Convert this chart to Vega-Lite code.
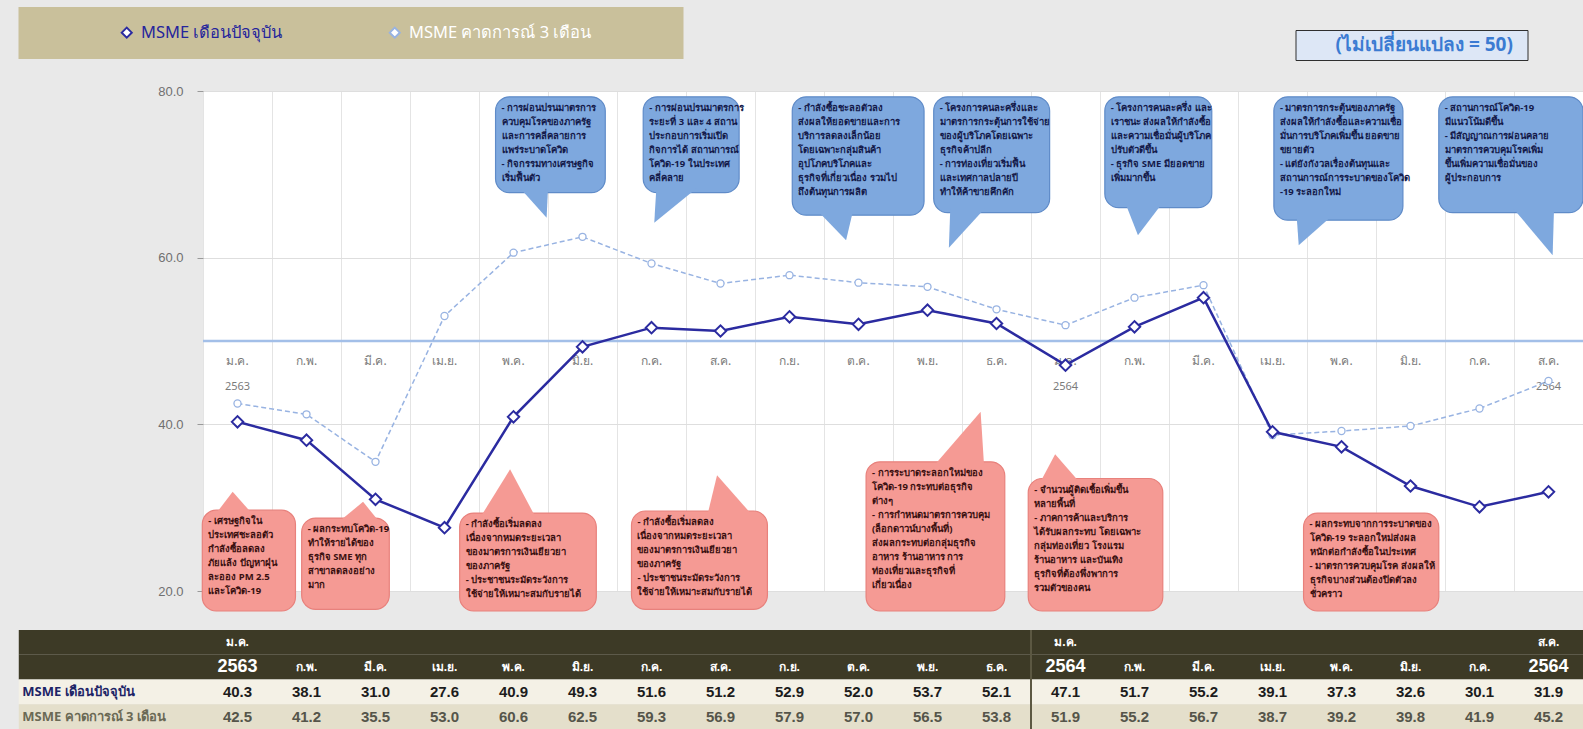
{
  "$schema": "https://vega.github.io/schema/vega-lite/v6.json",
  "background": "#e9e9e9",
  "padding": {"left": 18, "top": 7, "right": 0, "bottom": 0},
  "autosize": {"type": "pad"},
  "config": {
    "font": "Noto Sans",
    "view": {"stroke": null},
    "axis": {"labelFont": "Liberation Sans"}
  },
  "datasets": {
    "series": [
      {"i":0,"series":"MSME เดือนปัจจุบัน","value":40.3},
      {"i":1,"series":"MSME เดือนปัจจุบัน","value":38.1},
      {"i":2,"series":"MSME เดือนปัจจุบัน","value":31.0},
      {"i":3,"series":"MSME เดือนปัจจุบัน","value":27.6},
      {"i":4,"series":"MSME เดือนปัจจุบัน","value":40.9},
      {"i":5,"series":"MSME เดือนปัจจุบัน","value":49.3},
      {"i":6,"series":"MSME เดือนปัจจุบัน","value":51.6},
      {"i":7,"series":"MSME เดือนปัจจุบัน","value":51.2},
      {"i":8,"series":"MSME เดือนปัจจุบัน","value":52.9},
      {"i":9,"series":"MSME เดือนปัจจุบัน","value":52.0},
      {"i":10,"series":"MSME เดือนปัจจุบัน","value":53.7},
      {"i":11,"series":"MSME เดือนปัจจุบัน","value":52.1},
      {"i":12,"series":"MSME เดือนปัจจุบัน","value":47.1},
      {"i":13,"series":"MSME เดือนปัจจุบัน","value":51.7},
      {"i":14,"series":"MSME เดือนปัจจุบัน","value":55.2},
      {"i":15,"series":"MSME เดือนปัจจุบัน","value":39.1},
      {"i":16,"series":"MSME เดือนปัจจุบัน","value":37.3},
      {"i":17,"series":"MSME เดือนปัจจุบัน","value":32.6},
      {"i":18,"series":"MSME เดือนปัจจุบัน","value":30.1},
      {"i":19,"series":"MSME เดือนปัจจุบัน","value":31.9},
      {"i":0,"series":"MSME คาดการณ์ 3 เดือน","value":42.5},
      {"i":1,"series":"MSME คาดการณ์ 3 เดือน","value":41.2},
      {"i":2,"series":"MSME คาดการณ์ 3 เดือน","value":35.5},
      {"i":3,"series":"MSME คาดการณ์ 3 เดือน","value":53.0},
      {"i":4,"series":"MSME คาดการณ์ 3 เดือน","value":60.6},
      {"i":5,"series":"MSME คาดการณ์ 3 เดือน","value":62.5},
      {"i":6,"series":"MSME คาดการณ์ 3 เดือน","value":59.3},
      {"i":7,"series":"MSME คาดการณ์ 3 เดือน","value":56.9},
      {"i":8,"series":"MSME คาดการณ์ 3 เดือน","value":57.9},
      {"i":9,"series":"MSME คาดการณ์ 3 เดือน","value":57.0},
      {"i":10,"series":"MSME คาดการณ์ 3 เดือน","value":56.5},
      {"i":11,"series":"MSME คาดการณ์ 3 เดือน","value":53.8},
      {"i":12,"series":"MSME คาดการณ์ 3 เดือน","value":51.9},
      {"i":13,"series":"MSME คาดการณ์ 3 เดือน","value":55.2},
      {"i":14,"series":"MSME คาดการณ์ 3 เดือน","value":56.7},
      {"i":15,"series":"MSME คาดการณ์ 3 เดือน","value":38.7},
      {"i":16,"series":"MSME คาดการณ์ 3 เดือน","value":39.2},
      {"i":17,"series":"MSME คาดการณ์ 3 เดือน","value":39.8},
      {"i":18,"series":"MSME คาดการณ์ 3 เดือน","value":41.9},
      {"i":19,"series":"MSME คาดการณ์ 3 เดือน","value":45.2}
    ],
    "months": [
      {"i":0,"m":"ม.ค.","yr":"2563"},
      {"i":1,"m":"ก.พ.","yr":""},
      {"i":2,"m":"มี.ค.","yr":""},
      {"i":3,"m":"เม.ย.","yr":""},
      {"i":4,"m":"พ.ค.","yr":""},
      {"i":5,"m":"มิ.ย.","yr":""},
      {"i":6,"m":"ก.ค.","yr":""},
      {"i":7,"m":"ส.ค.","yr":""},
      {"i":8,"m":"ก.ย.","yr":""},
      {"i":9,"m":"ต.ค.","yr":""},
      {"i":10,"m":"พ.ย.","yr":""},
      {"i":11,"m":"ธ.ค.","yr":""},
      {"i":12,"m":"ม.ค.","yr":"2564"},
      {"i":13,"m":"ก.พ.","yr":""},
      {"i":14,"m":"มี.ค.","yr":""},
      {"i":15,"m":"เม.ย.","yr":""},
      {"i":16,"m":"พ.ค.","yr":""},
      {"i":17,"m":"มิ.ย.","yr":""},
      {"i":18,"m":"ก.ค.","yr":""},
      {"i":19,"m":"ส.ค.","yr":"2564"}
    ],
    "ref": [{"k":"(ไม่เปลี่ยนแปลง = 50)","v":50}],
    "trows": [{"row":"top"},{"row":"month"},{"row":"MSME เดือนปัจจุบัน"},{"row":"MSME คาดการณ์ 3 เดือน"}],
    "notes": [
      {"id":"B1","kind":"blue","x0":3.74,"x1":5.33,"ytop":79.3,"ybot":67.8,"t":"- การผ่อนปรนมาตรการ\nควบคุมโรคของภาครัฐ\nและการคลี่คลายการ\nแพร่ระบาดโควิด\n- กิจกรรมทางเศรษฐกิจ\nเริ่มฟื้นตัว"},
      {"id":"B2","kind":"blue","x0":5.88,"x1":7.27,"ytop":79.3,"ybot":67.8,"t":"- การผ่อนปรนมาตรการ\nระยะที่ 3 และ 4 สถาน\nประกอบการเริ่มเปิด\nกิจการได้ สถานการณ์\nโควิด-19 ในประเทศ\nคลี่คลาย"},
      {"id":"B3","kind":"blue","x0":8.04,"x1":9.95,"ytop":79.3,"ybot":65.1,"t":"- กำลังซื้อชะลอตัวลง\nส่งผลให้ยอดขายและการ\nบริการลดลงเล็กน้อย\nโดยเฉพาะกลุ่มสินค้า\nอุปโภคบริโภคและ\nธุรกิจที่เกี่ยวเนื่อง รวมไป\nถึงต้นทุนการผลิต"},
      {"id":"B4","kind":"blue","x0":10.09,"x1":11.77,"ytop":79.3,"ybot":65.4,"t":"- โครงการคนละครึ่งและ\nมาตรการกระตุ้นการใช้จ่าย\nของผู้บริโภคโดยเฉพาะ\nธุรกิจค้าปลีก\n- การท่องเที่ยวเริ่มฟื้น\nและเทศกาลปลายปี\nทำให้ค้าขายคึกคัก"},
      {"id":"B5","kind":"blue","x0":12.57,"x1":14.12,"ytop":79.3,"ybot":66.0,"t":"- โครงการคนละครึ่ง และ\nเราชนะ ส่งผลให้กำลังซื้อ\nและความเชื่อมั่นผู้บริโภค\nปรับตัวดีขึ้น\n- ธุรกิจ SME มียอดขาย\nเพิ่มมากขึ้น"},
      {"id":"B6","kind":"blue","x0":15.02,"x1":16.89,"ytop":79.3,"ybot":64.5,"t":"- มาตรการกระตุ้นของภาครัฐ\nส่งผลให้กำลังซื้อและความเชื่อ\nมั่นการบริโภคเพิ่มขึ้น ยอดขาย\nขยายตัว\n- แต่ยังกังวลเรื่องต้นทุนและ\nสถานการณ์การระบาดของโควิด\n-19 ระลอกใหม่"},
      {"id":"B7","kind":"blue","x0":17.41,"x1":19.5,"ytop":79.3,"ybot":65.4,"t":"- สถานการณ์โควิด-19\nมีแนวโน้มดีขึ้น\n- มีสัญญาณการผ่อนคลาย\nมาตรการควบคุมโรคเพิ่ม\nขึ้นเพิ่มความเชื่อมั่นของ\nผู้ประกอบการ"},
      {"id":"P1","kind":"pink","x0":-0.51,"x1":0.84,"ytop":29.7,"ybot":17.6,"t":"- เศรษฐกิจใน\nประเทศชะลอตัว\nกำลังซื้อลดลง\nภัยแล้ง ปัญหาฝุ่น\nละออง PM 2.5\nและโควิด-19"},
      {"id":"P2","kind":"pink","x0":0.93,"x1":2.2,"ytop":28.75,"ybot":17.8,"t":"- ผลกระทบโควิด-19\nทำให้รายได้ของ\nธุรกิจ SME ทุก\nสาขาลดลงอย่าง\nมาก"},
      {"id":"P3","kind":"pink","x0":3.22,"x1":5.2,"ytop":29.35,"ybot":17.6,"t":"- กำลังซื้อเริ่มลดลง\nเนื่องจากหมดระยะเวลา\nของมาตรการเงินเยียวยา\nของภาครัฐ\n- ประชาชนระมัดระวังการ\nใช้จ่ายให้เหมาะสมกับรายได้"},
      {"id":"P4","kind":"pink","x0":5.71,"x1":7.68,"ytop":29.6,"ybot":17.8,"t":"- กำลังซื้อเริ่มลดลง\nเนื่องจากหมดระยะเวลา\nของมาตรการเงินเยียวยา\nของภาครัฐ\n- ประชาชนระมัดระวังการ\nใช้จ่ายให้เหมาะสมกับรายได้"},
      {"id":"P5","kind":"pink","x0":9.11,"x1":11.12,"ytop":35.5,"ybot":17.6,"t":"- การระบาดระลอกใหม่ของ\nโควิด-19 กระทบต่อธุรกิจ\nต่างๆ\n- การกำหนดมาตรการควบคุม\n(ล็อกดาวน์บางพื้นที่)\nส่งผลกระทบต่อกลุ่มธุรกิจ\nอาหาร ร้านอาหาร การ\nท่องเที่ยวและธุรกิจที่\nเกี่ยวเนื่อง"},
      {"id":"P6","kind":"pink","x0":11.46,"x1":13.41,"ytop":33.5,"ybot":17.6,"t":"- จำนวนผู้ติดเชื้อเพิ่มขึ้น\nหลายพื้นที่\n- ภาคการค้าและบริการ\nได้รับผลกระทบ โดยเฉพาะ\nกลุ่มท่องเที่ยว โรงแรม\nร้านอาหาร และบันเทิง\nธุรกิจที่ต้องพึ่งพาการ\nรวมตัวของคน"},
      {"id":"P7","kind":"pink","x0":15.45,"x1":17.41,"ytop":29.35,"ybot":17.6,"t":"- ผลกระทบจากการระบาดของ\nโควิด-19 ระลอกใหม่ส่งผล\nหนักต่อกำลังซื้อในประเทศ\n- มาตรการควบคุมโรค ส่งผลให้\nธุรกิจบางส่วนต้องปิดตัวลง\nชั่วคราว"}
    ],
    "tails": [
      {"id":"B1","kind":"blue","y":68.3,"xa":4.1,"xb":4.5},
      {"id":"B1","kind":"blue","y":64.8,"xa":4.48,"xb":4.48},
      {"id":"B2","kind":"blue","y":68.3,"xa":6.07,"xb":6.65},
      {"id":"B2","kind":"blue","y":64.2,"xa":6.04,"xb":6.04},
      {"id":"B3","kind":"blue","y":65.6,"xa":8.41,"xb":8.92},
      {"id":"B3","kind":"blue","y":62.1,"xa":8.82,"xb":8.82},
      {"id":"B4","kind":"blue","y":65.9,"xa":10.33,"xb":10.83},
      {"id":"B4","kind":"blue","y":61.2,"xa":10.31,"xb":10.31},
      {"id":"B5","kind":"blue","y":66.5,"xa":12.87,"xb":13.4},
      {"id":"B5","kind":"blue","y":62.7,"xa":13.05,"xb":13.05},
      {"id":"B6","kind":"blue","y":65.0,"xa":15.35,"xb":15.86},
      {"id":"B6","kind":"blue","y":61.5,"xa":15.38,"xb":15.38},
      {"id":"B7","kind":"blue","y":65.9,"xa":18.49,"xb":19.08},
      {"id":"B7","kind":"blue","y":60.3,"xa":19.06,"xb":19.06},
      {"id":"P1","kind":"pink","y":29.2,"xa":-0.32,"xb":0.22},
      {"id":"P1","kind":"pink","y":31.9,"xa":-0.07,"xb":-0.07},
      {"id":"P2","kind":"pink","y":28.25,"xa":1.46,"xb":2.06},
      {"id":"P2","kind":"pink","y":30.7,"xa":1.82,"xb":1.82},
      {"id":"P3","kind":"pink","y":28.85,"xa":3.52,"xb":4.32},
      {"id":"P3","kind":"pink","y":34.6,"xa":3.95,"xb":3.95},
      {"id":"P4","kind":"pink","y":29.1,"xa":6.81,"xb":7.46},
      {"id":"P4","kind":"pink","y":33.9,"xa":6.95,"xb":6.95},
      {"id":"P5","kind":"pink","y":35.0,"xa":10.09,"xb":10.82},
      {"id":"P5","kind":"pink","y":41.5,"xa":10.77,"xb":10.77},
      {"id":"P6","kind":"pink","y":33.0,"xa":11.63,"xb":12.21},
      {"id":"P6","kind":"pink","y":36.4,"xa":11.85,"xb":11.85}
    ]
  },
  "bounds": "flush",
  "spacing": 39,
  "vconcat": [
    {
      "width": 1380,
      "height": 500,
      "view": {"fill": "#ffffff", "stroke": null},
      "layer": [
        {
          "data": {"name": "ref"},
          "mark": {"type": "rule", "color": "#a3bfe8", "strokeWidth": 2.5},
          "encoding": {
            "y": {"field": "v", "type": "quantitative", "title": null,
                  "scale": {"domain": [20, 80], "nice": false, "zero": false},
                  "axis": {"values": [20, 40, 60, 80], "format": ".1f", "grid": true, "gridColor": "#dedede", "domain": false, "tickColor": "#9a9a9a", "tickSize": 6, "labelPadding": 14, "labelColor": "#707070", "labelFontSize": 13}},
            "strokeDash": {"field": "k", "type": "nominal", "scale": {"range": [[1, 0]]},
                  "legend": {"orient": "none", "legendX": 1092.5, "legendY": -61, "title": null, "fillColor": "#dde7f6", "strokeColor": "#2f2f2f", "padding": 5, "symbolSize": 0, "symbolOpacity": 0, "symbolStrokeWidth": 0, "labelFontSize": 19, "labelFontWeight": "bold", "labelColor": "#3b7bd2", "labelLimit": 400, "labelOffset": 16,
                             "labelExpr": "'\u2003\u2003' + datum.label + '\u2002\u200b'",
                             "encode": {"legend": {"update": {"strokeWidth": {"value": 2}}}}}}
          }
        },
        {
          "data": {"name": "months"},
          "mark": {"type": "text", "dy": 20, "fontSize": 12, "color": "#7b7b7b"},
          "encoding": {
            "x": {"field": "i", "type": "quantitative", "title": null,
                  "scale": {"domain": [-0.5, 19.5], "nice": false, "zero": false},
                  "axis": {"values": [-0.5, 0.5, 1.5, 2.5, 3.5, 4.5, 5.5, 6.5, 7.5, 8.5, 9.5, 10.5, 11.5, 12.5, 13.5, 14.5, 15.5, 16.5, 17.5, 18.5, 19.5], "grid": true, "gridColor": "#e4e4e4", "labels": false, "ticks": false, "domain": false}},
            "y": {"datum": 50, "type": "quantitative", "title": null},
            "text": {"field": "m"}
          }
        },
        {
          "data": {"name": "months"},
          "transform": [{"filter": "datum.yr != ''"}],
          "mark": {"type": "text", "dy": 46, "fontSize": 11, "color": "#7b7b7b"},
          "encoding": {
            "x": {"field": "i", "type": "quantitative", "title": null},
            "y": {"datum": 50, "type": "quantitative", "title": null},
            "text": {"field": "yr"}
          }
        },
        {
          "data": {"name": "series"},
          "transform": [{"filter": "datum.series == 'MSME คาดการณ์ 3 เดือน'"}],
          "mark": {"type": "line", "strokeWidth": 1.5, "strokeDash": [5, 3]},
          "encoding": {
            "x": {"field": "i", "type": "quantitative", "title": null},
            "y": {"field": "value", "type": "quantitative", "title": null},
            "color": {"field": "series", "type": "nominal",
                      "scale": {"domain": ["MSME เดือนปัจจุบัน", "MSME คาดการณ์ 3 เดือน"], "range": ["#2b2ba0", "#98b3e2"]},
                      "legend": {"orient": "none", "legendX": -184.5, "legendY": -84, "direction": "horizontal",
                                 "title": "MMMMMMMMMMMMMMMMMMMMMMMM", "titleOrient": "left", "titleLimit": 92, "titleOpacity": 0, "titlePadding": 0,
                                 "fillColor": "#c9c09b", "padding": 17, "symbolType": "diamond", "symbolSize": 100, "symbolStrokeWidth": 2, "symbolFillColor": "#ffffff",
                                 "labelFontSize": 16.5, "labelFontWeight": "normal", "labelOffset": 6, "labelLimit": 500, "columnPadding": 103,
                                 "labelExpr": "datum.value == 'MSME คาดการณ์ 3 เดือน' ? datum.label + '\u2003\u2003\u2003\u2003\u2002\u200b' : datum.label",
                                 "encode": {"labels": {"update": {"fill": {"signal": "datum.value == 'MSME เดือนปัจจุบัน' ? '#25259c' : '#ffffff'"}}}}}}
          }
        },
        {
          "data": {"name": "series"},
          "transform": [{"filter": "datum.series == 'MSME เดือนปัจจุบัน'"}],
          "mark": {"type": "line", "strokeWidth": 2.5},
          "encoding": {
            "x": {"field": "i", "type": "quantitative", "title": null},
            "y": {"field": "value", "type": "quantitative", "title": null},
            "color": {"field": "series", "type": "nominal"}
          }
        },
        {
          "data": {"name": "series"},
          "transform": [{"filter": "datum.series == 'MSME คาดการณ์ 3 เดือน'"}],
          "mark": {"type": "point", "shape": "circle", "size": 50, "filled": false, "fill": "#ffffff", "strokeWidth": 1.3, "opacity": 1},
          "encoding": {
            "x": {"field": "i", "type": "quantitative", "title": null},
            "y": {"field": "value", "type": "quantitative", "title": null},
            "color": {"field": "series", "type": "nominal"}
          }
        },
        {
          "data": {"name": "series"},
          "transform": [{"filter": "datum.series == 'MSME เดือนปัจจุบัน'"}],
          "mark": {"type": "point", "shape": "diamond", "size": 130, "filled": false, "fill": "#ffffff", "strokeWidth": 2, "opacity": 1},
          "encoding": {
            "x": {"field": "i", "type": "quantitative", "title": null},
            "y": {"field": "value", "type": "quantitative", "title": null},
            "color": {"field": "series", "type": "nominal"}
          }
        },
        {
          "data": {"name": "notes"},
          "mark": {"type": "rect", "cornerRadius": 14, "strokeWidth": 1.2},
          "encoding": {
            "x": {"field": "x0", "type": "quantitative", "title": null},
            "x2": {"field": "x1"},
            "y": {"field": "ytop", "type": "quantitative", "title": null},
            "y2": {"field": "ybot"},
            "fill": {"field": "kind", "type": "nominal", "scale": {"domain": ["blue", "pink"], "range": ["#7ea8de", "#f59a94"]}, "legend": null},
            "stroke": {"field": "kind", "type": "nominal", "scale": {"domain": ["blue", "pink"], "range": ["#5f8bc8", "#e8817c"]}, "legend": null}
          }
        },
        {
          "data": {"name": "tails"},
          "mark": {"type": "area", "orient": "horizontal"},
          "encoding": {
            "y": {"field": "y", "type": "quantitative", "title": null},
            "x": {"field": "xa", "type": "quantitative", "title": null, "stack": null},
            "x2": {"field": "xb"},
            "detail": {"field": "id"},
            "fill": {"field": "kind", "type": "nominal"}
          }
        },
        {
          "data": {"name": "notes"},
          "mark": {"type": "text", "align": "left", "baseline": "top", "dx": 6, "dy": 6, "fontSize": 9.5, "fontWeight": "bold", "lineHeight": 14, "lineBreak": "\n"},
          "encoding": {
            "x": {"field": "x0", "type": "quantitative", "title": null},
            "y": {"field": "ytop", "type": "quantitative", "title": null},
            "text": {"field": "t"},
            "color": {"condition": {"test": "datum.kind == 'blue'", "value": "#141a4a"}, "value": "#3a1010"}
          }
        }
      ]
    },
    {
      "width": 1380,
      "height": 99,
      "layer": [
        {
          "data": {"name": "trows"},
          "mark": {"type": "rect"},
          "encoding": {
            "x": {"datum": -3.17, "type": "quantitative", "scale": {"domain": [-0.5, 19.5], "nice": false, "zero": false}, "axis": null},
            "x2": {"datum": 19.5},
            "y": {"field": "row", "type": "nominal", "scale": {"domain": ["top", "month", "MSME เดือนปัจจุบัน", "MSME คาดการณ์ 3 เดือน"], "paddingInner": 0, "paddingOuter": 0}, "axis": null},
            "color": {"condition": [{"test": "datum.row == 'top' || datum.row == 'month'", "value": "#3d3a26"}, {"test": "datum.row == 'MSME เดือนปัจจุบัน'", "value": "#f4f1e6"}], "value": "#e4dfcb"}
          }
        },
        {
          "data": {"name": "trows"},
          "mark": {"type": "rule", "color": "#5c5842", "strokeWidth": 2},
          "encoding": {
            "x": {"datum": 11.5, "type": "quantitative", "axis": null}
          }
        },
        {
          "data": {"name": "months"},
          "transform": [{"filter": "datum.yr != ''"}],
          "mark": {"type": "text", "fontSize": 12, "fontWeight": "bold", "color": "#ffffff", "font": "Liberation Sans"},
          "encoding": {
            "x": {"field": "i", "type": "quantitative", "axis": null},
            "y": {"datum": "top", "type": "nominal", "axis": null},
            "text": {"field": "m"}
          }
        },
        {
          "data": {"name": "months"},
          "mark": {"type": "text", "fontWeight": "bold", "color": "#ffffff", "font": "Liberation Sans"},
          "encoding": {
            "x": {"field": "i", "type": "quantitative", "axis": null},
            "y": {"datum": "month", "type": "nominal", "axis": null},
            "text": {"condition": {"test": "datum.yr != ''", "field": "yr"}, "field": "m"},
            "size": {"condition": {"test": "datum.yr != ''", "value": 18}, "value": 12}
          }
        },
        {
          "data": {"name": "series"},
          "mark": {"type": "text", "fontSize": 15, "fontWeight": "bold", "font": "Liberation Sans"},
          "encoding": {
            "x": {"field": "i", "type": "quantitative", "axis": null},
            "y": {"field": "series", "type": "nominal", "axis": null},
            "text": {"field": "value", "type": "quantitative", "format": ".1f"},
            "color": {"condition": {"test": "datum.series == 'MSME เดือนปัจจุบัน'", "value": "#1c1c1c"}, "value": "#55554a"}
          }
        },
        {
          "data": {"name": "trows"},
          "transform": [{"filter": "datum.row != 'top' && datum.row != 'month'"}],
          "mark": {"type": "text", "align": "left", "fontSize": 13, "fontWeight": "bold"},
          "encoding": {
            "x": {"datum": -3.12, "type": "quantitative", "axis": null},
            "y": {"field": "row", "type": "nominal", "axis": null},
            "text": {"field": "row"},
            "color": {"condition": {"test": "datum.row == 'MSME เดือนปัจจุบัน'", "value": "#1d2466"}, "value": "#6a6955"}
          }
        }
      ]
    }
  ]
}
